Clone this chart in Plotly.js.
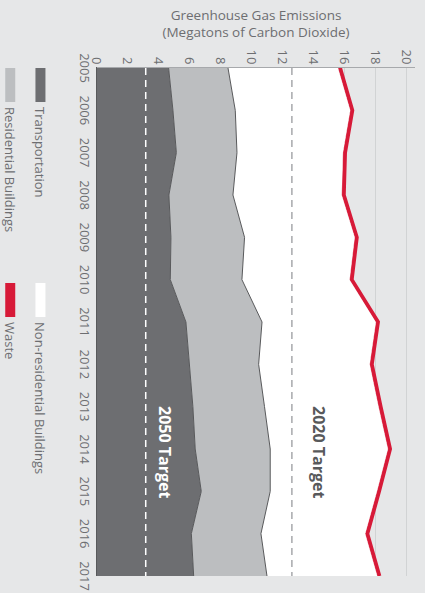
<!DOCTYPE html>
<html>
<head>
<meta charset="utf-8">
<script src="https://cdn.plot.ly/plotly-3.0.1.min.js"></script>
<style>
html,body{margin:0;padding:0;background:#e6e7e8;width:425px;height:593px;overflow:hidden;}
#chart{position:absolute;left:0;top:0;width:593px;height:425px;transform-origin:0 0;transform:translate(425px,0) rotate(90deg);}
</style>
</head>
<body>
<div id="chart"></div>
<script>
// ---- data (Megatons of CO2) ----
var years = [2005, 2006, 2007, 2008, 2009, 2010, 2011, 2012, 2013, 2014, 2015, 2016, 2017];
var yearLabels = ['2005','2006','2007','2008','2009','2010','2011','2012','2013','2014','2015','2016','2017'];
var transportation = [4.63, 4.91, 5.13, 4.65, 4.78, 4.74, 5.75, 5.99, 6.20, 6.35, 6.74, 6.10, 6.25];
var residential    = [3.84, 4.03, 3.92, 4.14, 4.76, 4.63, 4.92, 4.46, 4.63, 4.85, 4.46, 4.50, 4.74];
var nonResidential = [7.11, 7.43, 6.85, 7.03, 7.12, 6.96, 7.36, 7.18, 7.37, 7.61, 6.90, 6.74, 7.13];
var waste          = [0.15, 0.15, 0.15, 0.15, 0.15, 0.15, 0.15, 0.15, 0.15, 0.15, 0.15, 0.15, 0.15];
var seriesNames = ['Transportation', 'Residential Buildings', 'Non-residential Buildings', 'Waste'];
var targetValues = [3.15, 12.6];
var targetLabels = ['2050 Target', '2020 Target'];
var valueTicks = [0, 2, 4, 6, 8, 10, 12, 14, 16, 18, 20];

var FONT = 'Open Sans, Noto Sans, sans-serif';
var TXT = '#6d6e71';
var colors = ['#6d6e71', '#bcbec0', '#ffffff', '#d71a38'];

var traces = [
  {x: years, y: transportation, name: seriesNames[0], type: 'scatter', mode: 'lines', stackgroup: 'one',
   fillcolor: colors[0], line: {color: '#58595b', width: 1}, showlegend: false, hoverinfo: 'skip'},
  {x: years, y: residential, name: seriesNames[1], type: 'scatter', mode: 'lines', stackgroup: 'one',
   fillcolor: colors[1], line: {color: '#58595b', width: 1}, showlegend: false, hoverinfo: 'skip'},
  {x: years, y: nonResidential, name: seriesNames[2], type: 'scatter', mode: 'lines', stackgroup: 'one',
   fillcolor: colors[2], line: {color: '#ffffff', width: 0.5}, showlegend: false, hoverinfo: 'skip'},
  {x: years, y: waste, name: seriesNames[3], type: 'scatter', mode: 'lines', stackgroup: 'one',
   fillcolor: colors[3], line: {color: colors[3], width: 3.5}, showlegend: false, hoverinfo: 'skip'}
];

// legend entries (swatches)
var legendOf = ['legend', 'legend2', 'legend', 'legend2'];
var legendOrder = [0, 2, 1, 3];
legendOrder.forEach(function (i) {
  traces.push({x: [null], y: [null], type: 'scatter', mode: 'lines', name: seriesNames[i],
    line: {color: colors[i], width: 11}, legend: legendOf[i], showlegend: true, hoverinfo: 'skip'});
});

var shapes = targetValues.map(function (v, i) {
  return {type: 'line', xref: 'paper', x0: 0, x1: 1, yref: 'y', y0: v, y1: v, layer: 'above',
    line: {color: i === 0 ? '#ffffff' : '#a7a9ac', width: 1.5, dash: '7px,5px'}};
});

var annotations = targetLabels.map(function (t, i) {
  return {text: t, x: 2014.07, y: i === 0 ? 4.41 : 14.37, xref: 'x', yref: 'y', showarrow: false,
    font: {family: FONT, size: 16, weight: 700, color: i === 0 ? '#ffffff' : '#58595b'}};
});

var legendBase = {orientation: 'h', xanchor: 'left', yanchor: 'middle', x: -0.0098, traceorder: 'normal',
  entrywidth: 166, itemwidth: 34, bgcolor: 'rgba(0,0,0,0)', borderwidth: 0,
  font: {family: FONT, size: 13, color: TXT}, itemclick: false, itemdoubleclick: false};

var layout = {
  width: 593, height: 425,
  margin: {l: 68, r: 17, t: 10, b: 97, autoexpand: false},
  paper_bgcolor: '#e6e7e8', plot_bgcolor: '#e6e7e8',
  font: {family: FONT, size: 13, color: TXT},
  xaxis: {range: [2005, 2017], tickmode: 'array', tickvals: years, ticktext: yearLabels,
    showgrid: false, zeroline: false, showline: true, linecolor: '#58595b', linewidth: 1,
    ticks: '', tickfont: {family: FONT, size: 13, color: TXT}, fixedrange: true},
  yaxis: {range: [0, 20.56], tickmode: 'array', tickvals: valueTicks, showgrid: true, gridcolor: '#d1d3d4',
    gridwidth: 1, zeroline: false, showline: true, linecolor: '#a7a9ac', linewidth: 1, ticks: '',
    tickfont: {family: FONT, size: 13, color: TXT}, fixedrange: true,
    title: {text: 'Greenhouse Gas Emissions<br>(Megatons of Carbon Dioxide)', standoff: 8,
      font: {family: FONT, size: 13.5, color: TXT}}},
  legend: Object.assign({}, legendBase, {y: -0.178}),
  legend2: Object.assign({}, legendBase, {y: -0.273}),
  shapes: shapes,
  annotations: annotations,
  showlegend: true
};

Plotly.newPlot('chart', traces, layout, {displayModeBar: false, staticPlot: true});
</script>
</body>
</html>
